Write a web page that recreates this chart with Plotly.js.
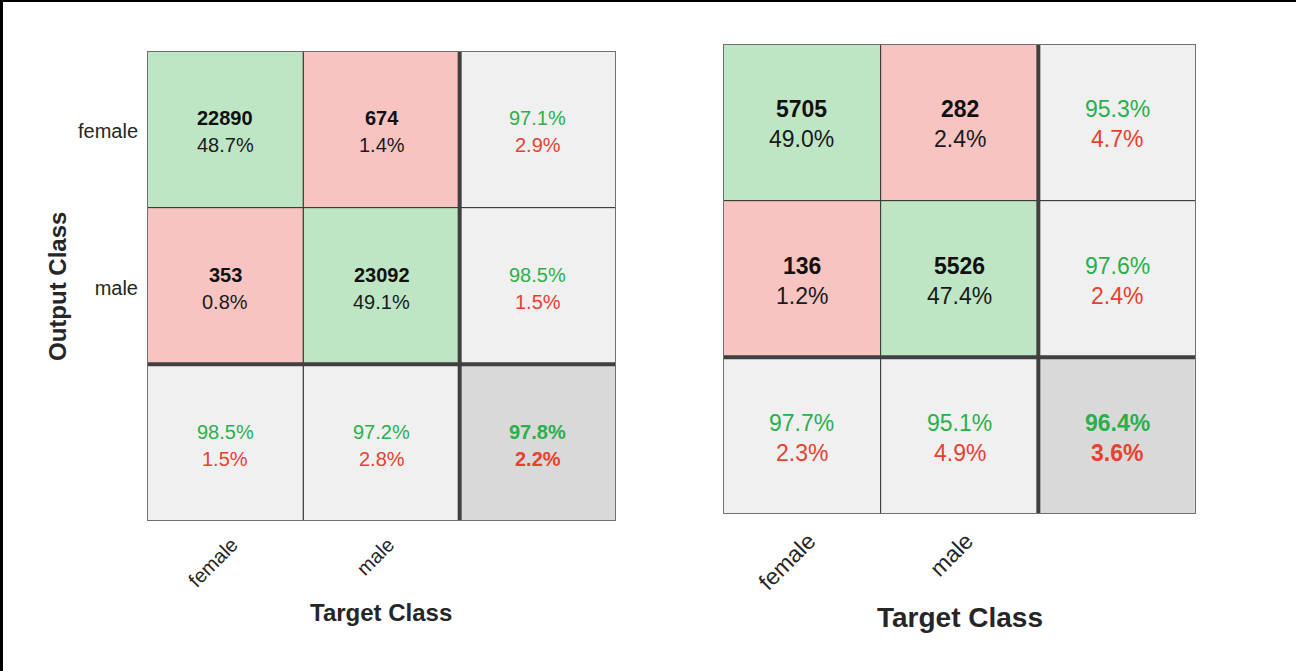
<!DOCTYPE html>
<html>
<head>
<meta charset="utf-8">
<script src="https://cdn.plot.ly/plotly-3.0.1.min.js"></script>
<style>
html,body{margin:0;padding:0;background:#fff;}
#chart{width:1296px;height:671px;}
</style>
</head>
<body>
<div id="chart"></div>
<script>
// ---- data ----
const classLabels = ['female', 'male'];

const countsA = [[22890, 674], [353, 23092]];
const pctA = [[48.7, 1.4], [0.8, 49.1]];
const rowCorrectA = [97.1, 98.5];
const rowWrongA = [2.9, 1.5];
const colCorrectA = [98.5, 97.2];
const colWrongA = [1.5, 2.8];
const totalA = [97.8, 2.2];

const countsB = [[5705, 282], [136, 5526]];
const pctB = [[49.0, 2.4], [1.2, 47.4]];
const rowCorrectB = [95.3, 97.6];
const rowWrongB = [4.7, 2.4];
const colCorrectB = [97.7, 95.1];
const colWrongB = [2.3, 4.9];
const totalB = [96.4, 3.6];

// ---- styles ----
const GREEN_CELL = '#bee6c5';
const RED_CELL = '#f8c4c1';
const GREY_CELL = '#f0f0f0';
const DARK_CELL = '#d9d9d9';
const GREEN_TXT = '#2ab04a';
const RED_TXT = '#e7412f';
const FONT = 'Liberation Sans, Arial, sans-serif';

const shapes = [];
const annotations = [];

function buildMatrix(ax, counts, pct, rowC, rowW, colC, colW, total, fs, up, down) {
  const xr = ax === 1 ? 'x' : 'x2';
  const yr = ax === 1 ? 'y' : 'y2';
  const n = counts.length;
  function cell(i, j, fill) {
    shapes.push({type: 'rect', xref: xr, yref: yr, x0: j - 0.5, x1: j + 0.5, y0: i - 0.5, y1: i + 0.5,
      fillcolor: fill, line: {color: '#333333', width: 1}, layer: 'below'});
  }
  function txt(i, j, s, color, bold, shift) {
    annotations.push({xref: xr, yref: yr, x: j, y: i, text: bold ? '<b>' + s + '</b>' : s, showarrow: false,
      font: {family: FONT, size: fs, color: color}, xanchor: 'center', yanchor: 'middle', yshift: shift});
  }
  for (let i = 0; i < n; i++) {
    for (let j = 0; j < n; j++) {
      cell(i, j, i === j ? GREEN_CELL : RED_CELL);
      txt(i, j, String(counts[i][j]), '#111111', true, up);
      txt(i, j, pct[i][j].toFixed(1) + '%', '#1a1a1a', false, down);
    }
    // row summary
    cell(i, n, GREY_CELL);
    txt(i, n, rowC[i].toFixed(1) + '%', GREEN_TXT, false, up);
    txt(i, n, rowW[i].toFixed(1) + '%', RED_TXT, false, down);
    // column summary
    cell(n, i, GREY_CELL);
    txt(n, i, colC[i].toFixed(1) + '%', GREEN_TXT, false, up);
    txt(n, i, colW[i].toFixed(1) + '%', RED_TXT, false, down);
  }
  cell(n, n, DARK_CELL);
  txt(n, n, total[0].toFixed(1) + '%', GREEN_TXT, true, up);
  txt(n, n, total[1].toFixed(1) + '%', RED_TXT, true, down);
  // thick separators
  shapes.push({type: 'line', xref: xr, yref: yr, x0: n - 0.5, x1: n - 0.5, y0: -0.5, y1: n + 0.5,
    line: {color: '#404040', width: 4}});
  shapes.push({type: 'line', xref: xr, yref: yr, x0: -0.5, x1: n + 0.5, y0: n - 0.5, y1: n - 0.5,
    line: {color: '#404040', width: 4}});
  // outer border
  shapes.push({type: 'rect', xref: xr, yref: yr, x0: -0.5, x1: n + 0.5, y0: -0.5, y1: n + 0.5,
    line: {color: '#707070', width: 2}, fillcolor: 'rgba(0,0,0,0)'});
}

buildMatrix(1, countsA, pctA, rowCorrectA, rowWrongA, colCorrectA, colWrongA, totalA, 20, 11, -16);
buildMatrix(2, countsB, pctB, rowCorrectB, rowWrongB, colCorrectB, colWrongB, totalB, 23, 13, -17);

// frame lines (top & left)
shapes.push({type: 'line', xref: 'paper', yref: 'paper', x0: 0, x1: 1, y0: 1, y1: 1, line: {color: '#000', width: 4}});
shapes.push({type: 'line', xref: 'paper', yref: 'paper', x0: 0, x1: 0, y0: 0, y1: 1, line: {color: '#000', width: 6}});

const W = 1296, H = 671;
// axis titles
annotations.push({xref: 'paper', yref: 'paper', x: 381 / W, y: 1 - 612 / H, text: '<b>Target Class</b>', showarrow: false,
  font: {family: FONT, size: 24, color: '#262626'}, xanchor: 'center', yanchor: 'middle'});
annotations.push({xref: 'paper', yref: 'paper', x: 959.5 / W, y: 1 - 617 / H, text: '<b>Target Class</b>', showarrow: false,
  font: {family: FONT, size: 28, color: '#262626'}, xanchor: 'center', yanchor: 'middle'});
annotations.push({xref: 'paper', yref: 'paper', x: 57 / W, y: 1 - 287 / H, text: '<b>Output Class</b>', showarrow: false,
  textangle: -90, font: {family: FONT, size: 24, color: '#262626'}, xanchor: 'center', yanchor: 'middle'});

const tickVals = classLabels.map((_, k) => k);

const data = [
  {type: 'scatter', x: [0], y: [0], xaxis: 'x', yaxis: 'y', mode: 'markers', marker: {opacity: 0}, hoverinfo: 'skip', showlegend: false},
  {type: 'scatter', x: [0], y: [0], xaxis: 'x2', yaxis: 'y2', mode: 'markers', marker: {opacity: 0}, hoverinfo: 'skip', showlegend: false}
];

const baseAxis = {showgrid: false, zeroline: false, showline: false, ticks: '', fixedrange: true};

const layout = {
  width: W, height: H,
  margin: {l: 0, r: 0, t: 0, b: 0},
  paper_bgcolor: '#ffffff', plot_bgcolor: 'rgba(0,0,0,0)',
  showlegend: false,
  xaxis: Object.assign({}, baseAxis, {domain: [147 / W, 616 / W], range: [-0.5, 2.5], tickvals: tickVals, ticktext: classLabels,
    tickangle: -45, ticklabelshift: 7, ticklabelstandoff: 7,
    tickfont: {family: FONT, size: 20, color: '#262626'}, anchor: 'y'}),
  yaxis: Object.assign({}, baseAxis, {domain: [1 - 521 / H, 1 - 51 / H], range: [2.5, -0.5], tickvals: tickVals, ticktext: classLabels,
    ticklabelstandoff: 8, ticklabelshift: -2,
    tickfont: {family: FONT, size: 20, color: '#262626'}, anchor: 'x'}),
  xaxis2: Object.assign({}, baseAxis, {domain: [723 / W, 1196 / W], range: [-0.5, 2.5], tickvals: tickVals, ticktext: classLabels,
    tickangle: -45, ticklabelshift: 7, ticklabelstandoff: 8,
    tickfont: {family: FONT, size: 23, color: '#262626'}, anchor: 'y2'}),
  yaxis2: Object.assign({}, baseAxis, {domain: [1 - 514 / H, 1 - 44 / H], range: [2.5, -0.5], showticklabels: false, anchor: 'x2'}),
  shapes: shapes,
  annotations: annotations
};

Plotly.newPlot('chart', data, layout, {staticPlot: true, displayModeBar: false});
</script>
</body>
</html>
